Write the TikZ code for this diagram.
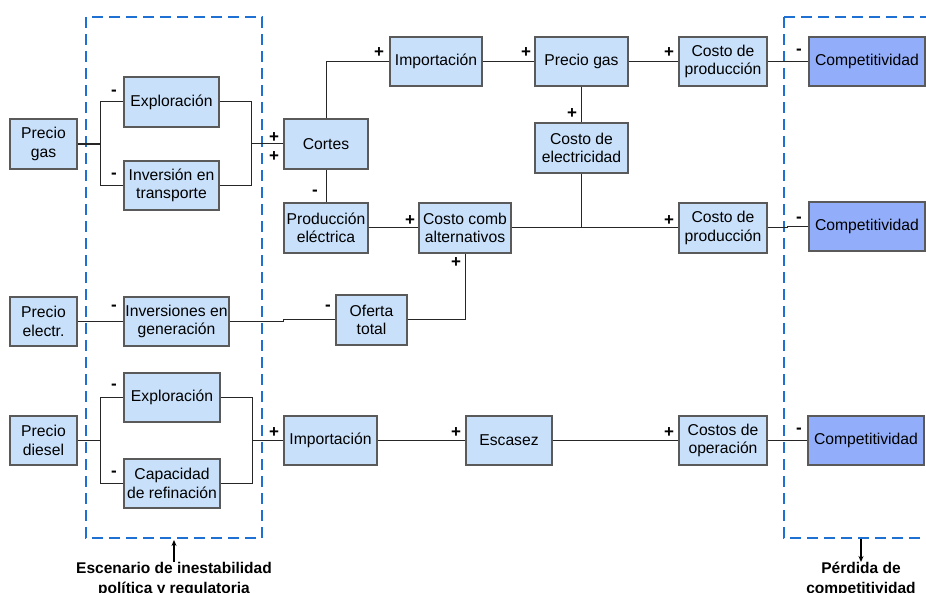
\documentclass[tikz,border=0pt]{standalone}
\usepackage{fontspec}
\setmainfont{Liberation Sans}
\usetikzlibrary{arrows.meta}
\definecolor{lb}{RGB}{200,224,250}
\definecolor{db}{RGB}{146,174,250}
\definecolor{bd}{RGB}{90,90,90}
\definecolor{dsh}{RGB}{30,112,210}
\tikzset{
  box/.style={draw=bd, line width=1.1pt, fill=lb, align=center, inner sep=0pt,
    minimum height=50pt, font=\fontsize{15.7}{18.4}\selectfont},
  cbox/.style={box, fill=db},
  conn/.style={draw=black!85, line width=1pt},
  sgn/.style={font=\fontsize{17}{17}\bfseries\selectfont, inner sep=0pt},
  scen/.style={draw=dsh, line width=2pt, dash pattern=on 11pt off 6pt},
  captxt/.style={font=\fontsize{15.5}{20}\bfseries\selectfont, align=center, inner sep=0pt}
}
\begin{document}
\begin{tikzpicture}[x=1pt,y=-1pt]
\clip (0,0) rectangle (926,593);
\fill[white] (0,0) rectangle (926,593);
% dashed scenario boxes
\draw[scen] (86,17) rectangle (262,538);
\draw[scen] (784,17) rectangle (940,538);
% nodes
\node[box, minimum width=67pt] (pg1) at (43.5,144) {Precio\\gas};
\node[box, minimum width=95pt] (exp1) at (171.5,102) {Exploración};
\node[box, minimum width=95pt, minimum height=49pt] (inv1) at (171.5,185.5) {Inversión en\\transporte};
\node[box, minimum width=84pt] (cortes) at (326,144) {Cortes};
\node[box, minimum width=84pt] (prod) at (326,228) {Producción\\eléctrica};
\node[box, minimum width=92pt, minimum height=49pt] (imp1) at (436,61.5) {Importación};
\node[box, minimum width=93pt, minimum height=49pt] (pgas2) at (581.5,61.5) {Precio gas};
\node[box, minimum width=88pt, minimum height=49pt] (cp1) at (723,61.5) {Costo de\\producción};
\node[cbox, minimum width=116pt, minimum height=49pt] (comp1) at (867,61.5) {Competitividad};
\node[box, minimum width=93pt] (celec) at (581.5,148) {Costo de\\electricidad};
\node[box, minimum width=92pt] (ccomb) at (465,228) {Costo comb\\alternativos};
\node[box, minimum width=88pt] (cp2) at (723,228) {Costo de\\producción};
\node[cbox, minimum width=116pt, minimum height=49pt] (comp2) at (867,226.5) {Competitividad};
\node[box, minimum width=67pt, minimum height=49pt] (pe) at (43.5,321.5) {Precio\\electr.};
\node[box, minimum width=105pt, minimum height=49pt] (invgen) at (176.5,321.5) {Inversiones en\\generación};
\node[box, minimum width=71pt] (oferta) at (371.5,320) {Oferta\\total};
\node[box, minimum width=67pt, minimum height=49pt] (pd) at (43.5,440.5) {Precio\\diesel};
\node[box, minimum width=96pt, minimum height=49pt] (exp2) at (172,397.5) {Exploración};
\node[box, minimum width=96pt, minimum height=49pt] (capref) at (172,483.5) {Capacidad\\de refinación};
\node[box, minimum width=93pt, minimum height=49pt] (imp2) at (330.5,440.5) {Importación};
\node[box, minimum width=86pt, minimum height=49pt] (esc) at (509,440.5) {Escasez};
\node[box, minimum width=88pt, minimum height=49pt] (cop) at (723,440.5) {Costos de\\operación};
\node[cbox, minimum width=116pt, minimum height=49pt] (comp3) at (866,440.5) {Competitividad};
% junction coordinates
\coordinate (j1) at (100,144);
\coordinate (j1a) at (100,102);
\coordinate (j1b) at (100,185.5);
\coordinate (k1) at (251,144);
\coordinate (k1a) at (251,102);
\coordinate (k1b) at (251,185.5);
\coordinate (j2) at (100,440.5);
\coordinate (j2a) at (100,397.5);
\coordinate (j2b) at (100,483.5);
\coordinate (k2) at (252,440.5);
\coordinate (k2a) at (252,397.5);
\coordinate (k2b) at (252,483.5);
\coordinate (s1) at (283,321.5);
\coordinate (s2) at (283,320);
\coordinate (s3) at (787,228);
\coordinate (s4) at (787,226.5);
% connectors
\draw[conn, line width=1.8pt] (pg1.east) -- (j1);
\draw[conn] (j1a) -- (j1b);
\draw[conn] (j1a) -- (exp1.west);
\draw[conn] (j1b) -- (inv1.west);
\draw[conn] (exp1.east) -- (k1a) -- (k1b) -- (inv1.east);
\draw[conn] (k1) -- (cortes.west);
\draw[conn] (cortes.north) |- (imp1.west);
\draw[conn] (cortes.south) -- (prod.north);
\draw[conn] (prod.east) -- (ccomb.west);
\draw[conn] (imp1.east) -- (pgas2.west);
\draw[conn] (pgas2.east) -- (cp1.west);
\draw[conn] (pgas2.south) -- (celec.north);
\draw[conn] (celec.south) |- (cp2.west);
\draw[conn] (ccomb.east) -- (cp2.west);
\draw[conn] (cp1.east) -- (comp1.west);
\draw[conn] (cp2.east) -- (s3) -- (s4) -- (comp2.west);
\draw[conn] (pe.east) -- (invgen.west);
\draw[conn] (invgen.east) -- (s1) -- (s2) -- (oferta.west);
\draw[conn] (oferta.east) -| (ccomb.south);
\draw[conn] (pd.east) -- (j2);
\draw[conn] (j2a) -- (j2b);
\draw[conn] (j2a) -- (exp2.west);
\draw[conn] (j2b) -- (capref.west);
\draw[conn] (exp2.east) -- (k2a) -- (k2b) -- (capref.east);
\draw[conn] (k2) -- (imp2.west);
\draw[conn] (imp2.east) -- (esc.west);
\draw[conn] (esc.east) -- (cop.west);
\draw[conn] (cop.east) -- (comp3.west);
% signs
\foreach \x/\y [count=\i] in {114/93,114/176,315/193,114/308,328/308,114/387,114/474,799/52,799/220,799/431}
  \node[sgn] (m\i) at (\x,\y) {-};
\foreach \x/\y [count=\i] in {274/138,274/157,379/53,526/53,669/53,572/114,410/221,669/221,456/263,274/433,456/433,669/433}
  \node[sgn] (p\i) at (\x,\y) {+};
% captions
\node[captxt, anchor=north] (escen) at (174,562) {Escenario de inestabilidad\\política y regulatoria};
\node[captxt, anchor=north] (perd) at (861,562) {Pérdida de\\competitividad};
\coordinate (a1) at (174,540);
\coordinate (a2) at (861,539);
\draw[black, line width=1.2pt, -{Stealth[length=6pt,width=5pt]}] (escen.north) -- (a1);
\draw[black, line width=1.2pt, -{Stealth[length=6pt,width=5pt]}] (a2) -- (perd.north);
\end{tikzpicture}
\end{document}
